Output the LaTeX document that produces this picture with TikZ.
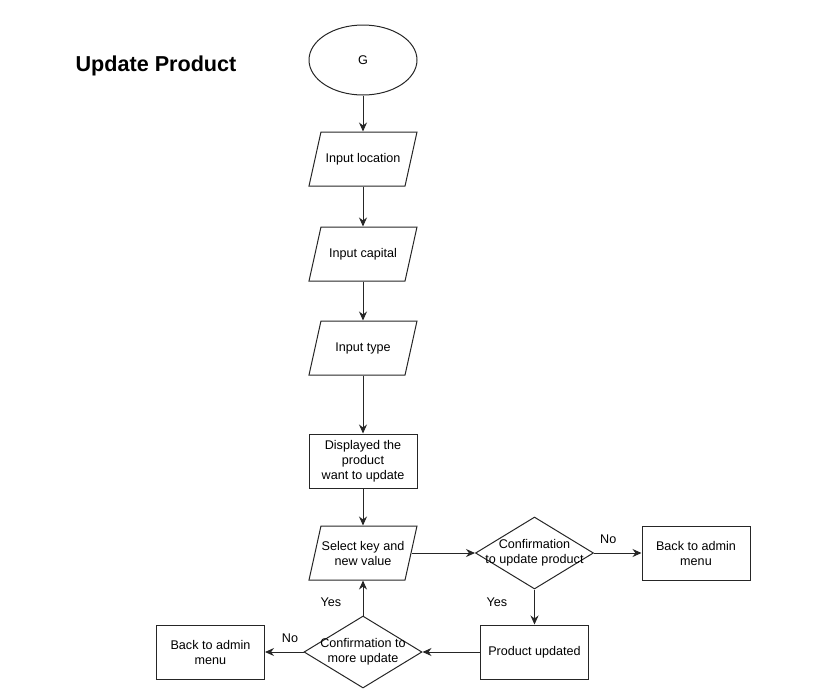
\documentclass[tikz,border=0pt]{standalone}
\usepackage{fontspec}
\setmainfont{Liberation Sans}
\usetikzlibrary{arrows.meta}
\usetikzlibrary{shapes.geometric}
\colorlet{LineCol}{black!85}
\tikzset{
  chart style/.style={
    x=1pt, y=-1pt,
    font=\fontsize{12.6}{15}\selectfont,
  },
  terminal/.style={
    draw=LineCol, line width=1pt,
    ellipse, inner sep=0pt,
    minimum width=108, minimum height=70,
  },
  io box/.style={
    draw=LineCol, line width=1pt,
    trapezium, trapezium stretches body=true,
    trapezium left angle=77.5, trapezium right angle=102.5,
    inner xsep=0pt, inner ysep=27pt,
    minimum width=108,
    label={[align=center]center:#1},
  },
  process box/.style={
    draw=LineCol, line width=1pt,
    rectangle, inner sep=0pt, align=center,
    minimum width=108, minimum height=54,
  },
  decision/.style={
    draw=LineCol, line width=1pt,
    diamond, inner sep=0pt,
    minimum width=118, minimum height=72,
    label={[align=center]center:#1},
  },
  flow/.style={
    draw=LineCol, line width=1pt,
    -{Stealth[length=9pt,width=8pt]},
  },
}

\begin{document}
\begin{tikzpicture}[chart style]
  \useasboundingbox (0,0) rectangle (817,697);
  \node[font=\fontsize{21.6}{26}\selectfont\bfseries] (title) at (156,66) {Update Product};
  % main column
  \node[terminal] (start) at (363,60) {G};
  \node[io box={Input location}] (loc) at (363,159) {};
  \node[io box={Input capital}] (cap) at (363,254) {};
  \node[io box={Input type}] (type) at (363,348) {};
  \node[process box] (disp) at (363,461) {Displayed the\\product\\want to update};
  \node[io box={Select key and\\new value}] (select) at (363,553) {};
  % decisions
  \node[decision={Confirmation\\to update product}] (conf1) at (534.5,553) {};
  \node[process box] (back1) at (696,553) {Back to admin\\menu};
  \node[process box] (updated) at (534.5,652) {Product updated};
  \node[decision={Confirmation to\\more update}] (conf2) at (363,652) {};
  \node[process box] (back2) at (210.5,652) {Back to admin\\menu};
  % connectors
  \draw[flow] (start) -- (loc);
  \draw[flow] (loc) -- (cap);
  \draw[flow] (cap) -- (type);
  \draw[flow] (type) -- (disp);
  \draw[flow] (disp) -- (select);
  \draw[flow] (select.east) -- (conf1.west);
  \draw[flow] (conf1.east) -- (back1.west) node[pos=0.3, above=6pt] {No};
  \draw[flow] (conf1.south) -- (updated.north);
  \draw[flow] (updated.west) -- (conf2.east);
  \draw[flow] (conf2.north) -- (select.south);
  \draw[flow] (conf2.west) -- (back2.east);
  % labels
  \node (yes1) at (497,602) {Yes};
  \node (yes2) at (331,602) {Yes};
  \node (no2) at (290,638) {No};
\end{tikzpicture}
\end{document}
